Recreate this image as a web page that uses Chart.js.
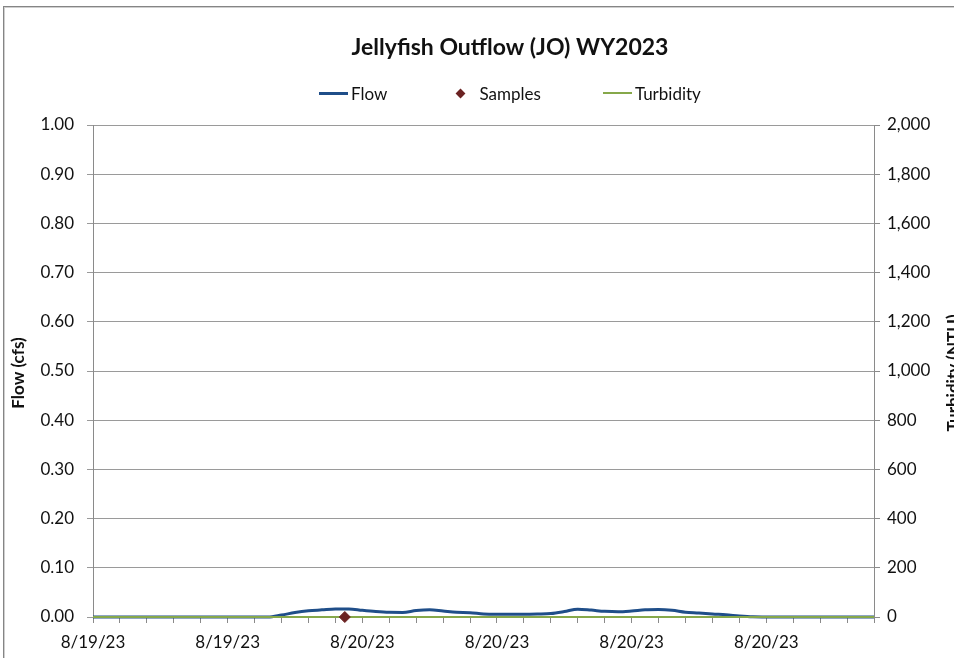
<!DOCTYPE html>
<html>
<head>
<meta charset="utf-8">
<script src="https://cdn.jsdelivr.net/npm/chart.js@4.4.1/dist/chart.umd.min.js"></script>
<style>
html,body{margin:0;padding:0;background:#fff;overflow:hidden;width:954px;height:658px;}
#wrap{position:absolute;left:0;top:0;width:1020px;height:690px;}
#c{display:block;width:1020px;height:690px;}
#frame{position:absolute;left:3px;top:6px;width:1040px;height:720px;border:1px solid #858585;box-shadow:inset 1px 1px 0 #cfcfcf;pointer-events:none;}
#legend{position:absolute;left:0;top:82px;width:1020px;height:22px;display:flex;justify-content:center;align-items:center;font-family:Lato,sans-serif;font-size:17px;color:#111;}
#legend .item{display:flex;align-items:center;white-space:nowrap;}
#legend .line{display:inline-block;width:29px;margin-right:3px;}
#legend .diamond{display:inline-block;width:7px;height:7px;transform:rotate(45deg);margin-right:15px;}
</style>
</head>
<body>
<div id="wrap"><canvas id="c" width="1020" height="690"></canvas></div>
<div id="legend"></div>
<div id="frame"></div>
<script>
// ---- data ----
const xLabels = ['8/19/23', '8/19/23', '8/20/23', '8/20/23', '8/20/23', '8/20/23'];
const flowT = [0, 6.5, 7, 7.5, 8, 8.5, 9, 9.5, 10, 10.5, 11, 11.5, 12, 12.5, 13, 13.5, 14, 14.5, 15, 15.5, 16, 16.5, 17, 17.5, 18, 18.5, 19, 19.5, 20, 20.5, 21, 21.5, 22, 22.5, 23, 23.5, 24, 24.5, 25, 29];
const flowQ = [0, 0, 0.004, 0.009, 0.0125, 0.0145, 0.0165, 0.0165, 0.0135, 0.011, 0.0095, 0.0093, 0.013, 0.0145, 0.012, 0.0095, 0.0088, 0.006, 0.0055, 0.0055, 0.0055, 0.006, 0.007, 0.011, 0.016, 0.014, 0.0115, 0.0105, 0.012, 0.0145, 0.015, 0.0135, 0.0095, 0.008, 0.006, 0.0045, 0.002, 0.0003, 0, 0];
const sampleT = [9.35];
const sampleQ = [0];
const turbT = [0, 29];
const turbV = [0, 0];
const yLeftTitle = 'Flow (cfs)';
const yRightTitle = 'Turbidity (NTU)';
const chartTitle = 'Jellyfish Outflow (JO) WY2023';

const FONT = 'Lato';
const TXT = '#111';
const GRID = '#9a9a9a';
const AXIS = '#8a8a8a';
const W = 1020, H = 690;
const AREA = {left: 93, right: 874, top: 125, bottom: 617};

const zip = (a, b) => a.map((v, i) => ({x: v, y: b[i]}));

const axisTitles = {
  id: 'axisTitles',
  afterDraw(chart) {
    const ctx = chart.ctx, a = chart.chartArea;
    const mid = (a.top + a.bottom) / 2 + 2;
    [[19, yLeftTitle], [954, yRightTitle]].forEach(([x, txt]) => {
      ctx.save();
      ctx.font = 'bold 17px ' + FONT;
      ctx.fillStyle = TXT;
      ctx.textAlign = 'center';
      ctx.textBaseline = 'middle';
      ctx.translate(x, mid);
      ctx.rotate(-Math.PI / 2);
      ctx.fillText(txt, 0, 0);
      ctx.restore();
    });
  }
};

const canvas = document.getElementById('c');

const chart = new Chart(canvas, {
  type: 'line',
  data: {
    datasets: [
      {label: 'Flow', data: zip(flowT, flowQ), borderColor: '#1f4e89', backgroundColor: '#1f4e89', borderWidth: 3, pointRadius: 0, cubicInterpolationMode: 'monotone', yAxisID: 'y', order: 2, clip: false},
      {label: 'Samples', data: zip(sampleT, sampleQ), showLine: false, pointStyle: 'rectRot', pointRadius: 5.5, backgroundColor: '#6b2222', borderColor: '#6b2222', yAxisID: 'y', order: 0, clip: false},
      {label: 'Turbidity', data: zip(turbT, turbV), borderColor: '#86a84a', backgroundColor: '#86a84a', borderWidth: 2, pointRadius: 0, yAxisID: 'y2', order: 1, clip: false}
    ]
  },
  options: {
    responsive: false,
    animation: false,
    devicePixelRatio: 1,
    layout: {padding: 0},
    plugins: {
      legend: {display: false},
      tooltip: {enabled: false},
      title: {display: true, text: chartTitle, color: TXT, font: {family: FONT, size: 23, weight: 'bold'}, padding: {top: 34, bottom: 125 - 34 - 27.6}}
    },
    scales: {
      x: {
        type: 'linear', min: 0, max: 29,
        border: {color: AXIS, width: 1},
        grid: {drawOnChartArea: false, color: AXIS, tickLength: 6},
        ticks: {stepSize: 1, autoSkip: false, maxRotation: 0, minRotation: 0, padding: 9, color: TXT, font: {family: FONT, size: 17},
          callback: function (v) { const r = Math.round(v); return (r % 5 === 0 && xLabels[r / 5]) ? xLabels[r / 5] : ''; }},
        afterFit: function (s) { s.height = H - AREA.bottom; }
      },
      y: {
        position: 'left', min: 0, max: 1,
        border: {color: AXIS, width: 1},
        grid: {color: GRID, tickLength: 6},
        ticks: {stepSize: 0.1, padding: 13, color: TXT, font: {family: FONT, size: 17}, callback: function (v) { return Number(v).toFixed(2); }},
        afterFit: function (s) { s.width = AREA.left; }
      },
      y2: {
        position: 'right', min: 0, max: 2000,
        border: {color: AXIS, width: 1},
        grid: {drawOnChartArea: false, color: AXIS, tickLength: 6},
        ticks: {stepSize: 200, padding: 7, color: TXT, font: {family: FONT, size: 17}, callback: function (v) { return Number(v).toLocaleString('en-US'); }},
        afterFit: function (s) { s.width = W - AREA.right; }
      }
    }
  },
  plugins: [axisTitles]
});

// HTML legend from the datasets
const leg = document.getElementById('legend');
const gaps = [0, 70, 62];
chart.data.datasets.forEach((ds, i) => {
  const item = document.createElement('div');
  item.className = 'item';
  item.style.marginLeft = gaps[i] + 'px';
  const m = document.createElement('span');
  if (ds.showLine === false) {
    m.className = 'diamond';
    m.style.background = ds.backgroundColor;
  } else {
    m.className = 'line';
    m.style.height = ds.borderWidth + 'px';
    m.style.background = ds.borderColor;
  }
  item.appendChild(m);
  const t = document.createElement('span');
  t.textContent = ds.label;
  item.appendChild(t);
  leg.appendChild(item);
});
</script>
</body>
</html>
